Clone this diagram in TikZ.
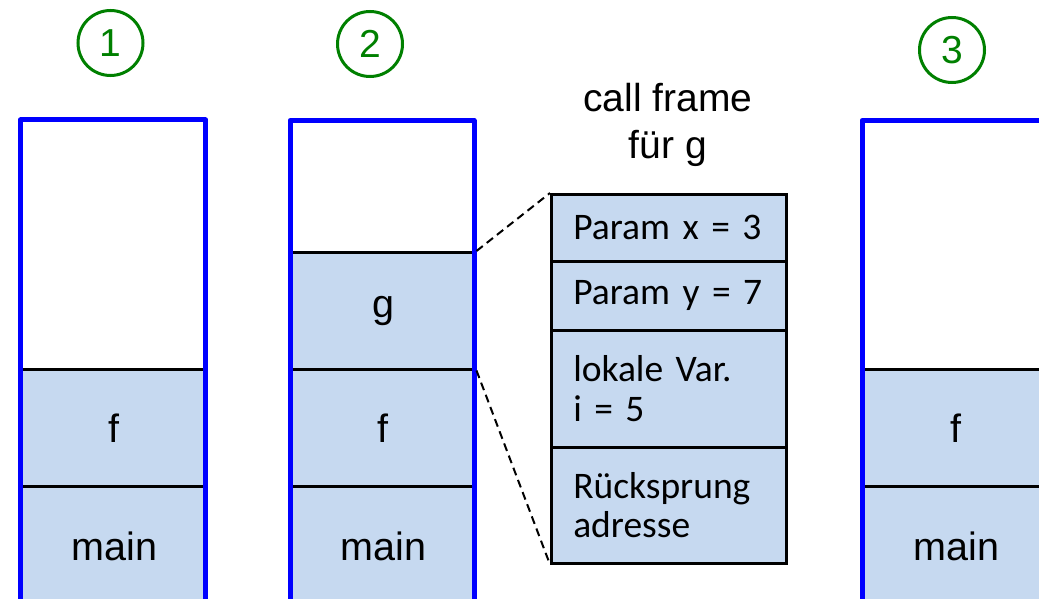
\documentclass[tikz,border=0pt]{standalone}
\usepackage{fontspec}
\setmainfont{Liberation Sans}
\newfontfamily\calibrifont{Carlito}
\definecolor{cellblue}{RGB}{198,217,240}
\definecolor{circgreen}{RGB}{0,128,0}
\definecolor{stackblue}{RGB}{0,0,255}
\begin{document}
\begin{tikzpicture}[x=1pt,y=-1pt,
  cell/.style={draw=black,line width=2.5pt,fill=cellblue,inner sep=0pt,anchor=north west,
    font=\fontsize{39.5}{40}\selectfont},
  framecell/.style={draw=black,line width=2.5pt,fill=cellblue,anchor=north west,
    inner xsep=22pt,inner ysep=0pt,text width=191pt,align=left,
    font=\calibrifont\fontsize{37.5}{39.5}\selectfont},
  stackwall/.style={draw=stackblue,line width=5pt,line join=round},
  numcirc/.style={circle,draw=circgreen,line width=3pt,minimum size=65pt,inner sep=0pt,
    text=circgreen,font=\fontsize{39}{39}\selectfont},
  zoomline/.style={draw=black,line width=2pt,dash pattern=on 8pt off 5pt}]
\useasboundingbox (0,0) rectangle (1039,599);
\clip (0,0) rectangle (1039,599);
\fill[white] (0,0) rectangle (1039,599);

% circles
\node[numcirc] (c1) at (110.5,43) {1};
\node[numcirc] (c2) at (370,44) {2};
\node[numcirc] (c3) at (952,50) {3};

% stack 1
\node[cell,minimum width=185pt,minimum height=117pt] (s1f) at (20.5,368) {f};
\node[cell,minimum width=185pt,minimum height=120pt] (s1m) at (20.5,485) {main};
\draw[stackwall] (20.5,640) -- (20.5,120) -- (205.5,120) -- (205.5,640);

% stack 2
\node[cell,minimum width=184pt,minimum height=117pt] (s2g) at (290,251) {\raisebox{-3pt}{g}};
\node[cell,minimum width=184pt,minimum height=117pt] (s2f) at (290,368) {f};
\node[cell,minimum width=184pt,minimum height=120pt] (s2m) at (290,485) {main};
\draw[stackwall] (290,640) -- (290,120.5) -- (474,120.5) -- (474,640);

% stack 3
\node[cell,minimum width=186pt,minimum height=117pt] (s3f) at (862,368) {f};
\node[cell,minimum width=186pt,minimum height=120pt] (s3m) at (862,485) {main};
\draw[stackwall] (862,640) -- (862,120.5) -- (1048,120.5) -- (1048,640);

% call frame
\node[font=\fontsize{39}{47}\selectfont,align=center] (title) at (668,125) {call frame\\für g};
\node[framecell,minimum height=67pt] (cf1) at (550,193) {Param~x~=~3};
\node[framecell,minimum height=69pt] (cf2) at (550,260) {Param~y~=~7};
\node[framecell,minimum height=117pt] (cf3) at (550,329) {lokale~Var.\\i~=~5};
\node[framecell,minimum height=116pt] (cf4) at (550,446) {Rücksprung\\adresse};

\draw[zoomline] (s2g.north east) -- (cf1.north west);
\draw[zoomline] (s2g.south east) -- (cf4.south west);
\end{tikzpicture}
\end{document}
